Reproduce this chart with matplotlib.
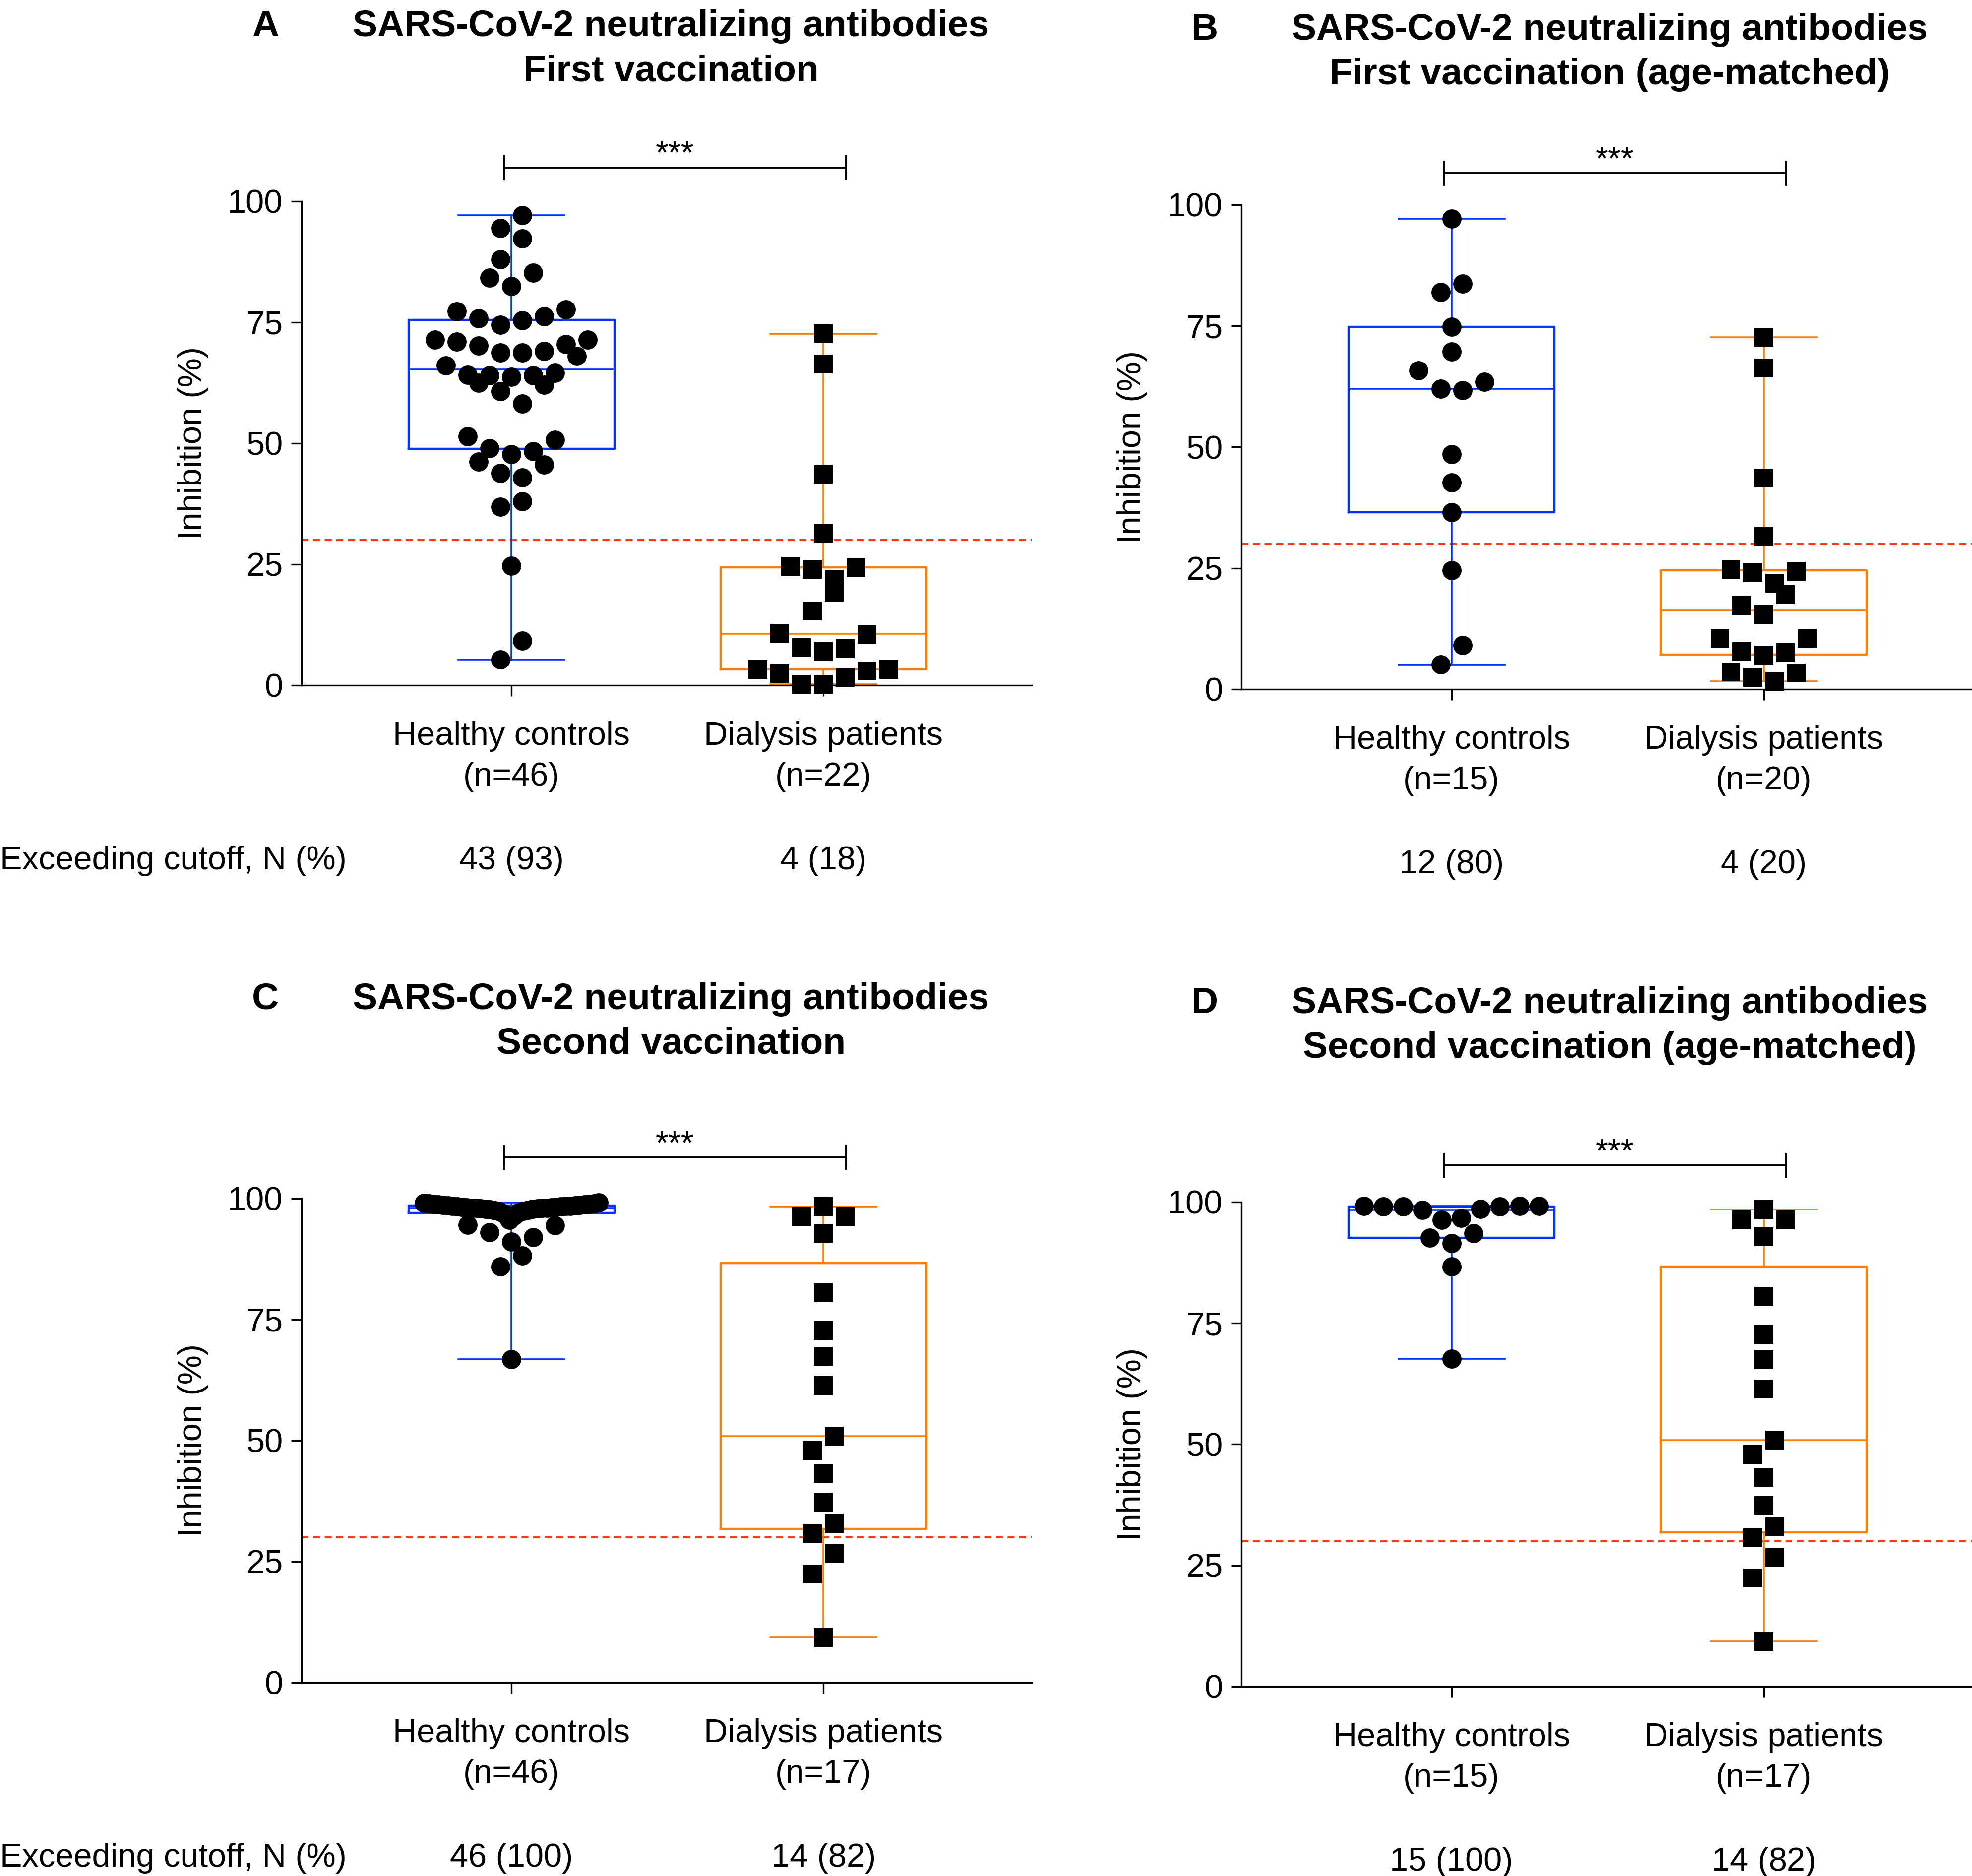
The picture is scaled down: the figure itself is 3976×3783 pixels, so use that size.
import numpy as np
import matplotlib
matplotlib.use("Agg")
import matplotlib.pyplot as plt
from matplotlib import cbook

plt.rcParams['font.family'] = ['Liberation Sans', 'DejaVu Sans']

# inhibition (%) per participant
first_healthy = [97.1, 94.5, 92.3, 88.0, 85.2, 84.2, 82.5, 77.7, 77.2, 76.2, 75.8, 75.4, 74.5,
                 71.4, 71.4, 71.0, 70.5, 70.2, 69.0, 68.7, 68.7, 68.0, 66.1, 64.5, 64.1, 64.0,
                 64.0, 63.7, 62.5, 62.1, 60.7, 58.2, 51.4, 50.7, 49.0, 48.4, 47.7, 46.2, 45.6,
                 43.8, 42.9, 38.0, 36.9, 24.7, 9.2, 5.3]
first_dialysis = [72.6, 66.4, 43.6, 31.4, 24.6, 24.3, 24.0, 21.9, 19.3, 15.4, 10.7, 10.5,
                  7.8, 7.6, 7.0, 3.3, 3.3, 3.0, 2.5, 1.6, 0.2, 0.2]
first_healthy_matched = [97.1, 83.7, 82.0, 74.8, 69.7, 65.8, 63.4, 62.0, 61.7, 48.5, 42.7,
                         36.5, 24.5, 9.1, 5.1]
first_dialysis_matched = [72.6, 66.3, 43.6, 31.5, 24.6, 24.3, 24.0, 21.9, 19.5, 17.3, 15.3,
                          10.5, 10.5, 7.8, 7.6, 7.0, 3.6, 3.4, 2.4, 1.6]
second_healthy = [99.2, 99.1, 99.0, 99.0, 98.9, 98.9, 98.8, 98.8, 98.7, 98.7, 98.6, 98.6,
                  98.5, 98.5, 98.5, 98.4, 98.4, 98.3, 98.3, 98.2, 98.2, 98.1, 98.1, 98.0,
                  98.0, 97.9, 97.9, 97.8, 97.8, 97.7, 97.6, 97.5, 97.4, 97.3, 97.1, 96.8,
                  96.4, 95.6, 94.6, 94.5, 93.0, 92.0, 91.1, 88.2, 86.0, 66.8]
second_dialysis = [98.4, 96.3, 96.3, 92.8, 80.5, 72.7, 67.4, 61.4, 50.9, 47.9, 43.2, 37.3,
                   32.9, 30.7, 26.6, 22.4, 9.3]
second_healthy_matched = [99.2, 99.2, 99.2, 99.1, 99.1, 99.05, 98.5, 98.3, 96.7, 96.3, 93.5,
                          92.6, 91.5, 86.7, 67.6]
second_dialysis_matched = [98.4, 96.3, 96.3, 92.8, 80.5, 72.7, 67.4, 61.4, 50.9, 47.9, 43.2,
                           37.3, 32.9, 30.7, 26.6, 22.4, 9.3]

groups = ["Healthy controls", "Dialysis patients"]
letters = ["A", "B", "C", "D"]
titles = ["SARS-CoV-2 neutralizing antibodies\nFirst vaccination",
          "SARS-CoV-2 neutralizing antibodies\nFirst vaccination (age-matched)",
          "SARS-CoV-2 neutralizing antibodies\nSecond vaccination",
          "SARS-CoV-2 neutralizing antibodies\nSecond vaccination (age-matched)"]
panel_data = [(first_healthy, first_dialysis),
              (first_healthy_matched, first_dialysis_matched),
              (second_healthy, second_dialysis),
              (second_healthy_matched, second_dialysis_matched)]
cutoff = 30
stars = "***"
yticks = [0, 25, 50, 75, 100]

BLUE = "#0033ff"
ORANGE = "#ff8000"
RED = "#ff3a0a"
FS = 24


def swarm(values, bin_h=4.4, step=0.07, max_half=0.28):
    # group points into rows by value, spread each row sideways, lowest in the middle
    v = np.asarray(values, float)
    order = np.argsort(v, kind="stable")
    x = np.zeros(len(v))
    i = 0
    while i < len(order):
        j = i
        while j < len(order) and v[order[j]] - v[order[i]] <= bin_h:
            j += 1
        idx = order[i:j]
        n = len(idx)
        k = n // 2
        sign = -1 if k % 2 else 1
        slots = [0.0] if n % 2 else []
        base = 1.0 if n % 2 else 0.5
        for m in range(k):
            slots += [sign * (m + base), -sign * (m + base)]
        st = step
        if n > 1 and (n - 1) * st / 2 > max_half:
            st = 2 * max_half / (n - 1)
        x[idx] = np.array(slots) * st
        i = j
    return x


fig = plt.figure(figsize=(19.88, 18.915), dpi=200)

rects = [[0.1529, 0.6347, 0.3702, 0.2580],
         [0.6295, 0.6326, 0.3705, 0.2583],
         [0.1529, 0.1031, 0.3702, 0.2580],
         [0.6295, 0.1010, 0.3705, 0.2583]]
bracket_y = [107, 106.5, 108.5, 107.5]

for p in range(4):
    ax = fig.add_axes(rects[p])
    healthy, dialysis = panel_data[p]
    for pos, vals, col, mk in ((0, healthy, BLUE, 'o'), (1, dialysis, ORANGE, 's')):
        st = cbook.boxplot_stats(vals, whis=(0, 100))[0]
        st['q1'], st['med'], st['q3'] = np.percentile(vals, [25, 50, 75], method='weibull')
        ax.bxp([st], positions=[pos], widths=0.66, capwidths=0.34, showfliers=False,
               manage_ticks=False,
               boxprops=dict(color=col, lw=1.6), whiskerprops=dict(color=col, lw=1.3),
               capprops=dict(color=col, lw=1.3), medianprops=dict(color=col, lw=1.3))
        ax.scatter(pos + swarm(vals), vals, s=195, marker=mk, c='black', linewidths=0,
                   zorder=4, clip_on=False)

    ax.axhline(cutoff, color=RED, lw=1.5, dashes=(3.4, 2.2), zorder=1)

    ax.set_xlim(-0.673, 1.667)
    ax.set_ylim(0, 100)
    ax.set_yticks(yticks)
    ax.set_yticklabels([str(t) for t in yticks])
    labels = [f"{g}\n(n={len(v)})" for g, v in zip(groups, (healthy, dialysis))]
    ax.set_xticks([0, 1])
    ax.set_xticklabels(labels, fontsize=FS, linespacing=1.42)
    ax.tick_params(axis='y', labelsize=FS, length=7.5, width=1.2, pad=6)
    ax.tick_params(axis='x', length=8, width=1.2, pad=18)
    for s in ('top', 'right'):
        ax.spines[s].set_visible(False)
    for s in ('left', 'bottom'):
        ax.spines[s].set_linewidth(1.2)
    ax.set_ylabel("Inhibition (%)", fontsize=FS)
    ax.yaxis.set_label_coords(-0.128, 0.5)

    # significance bracket between the two groups
    x0, x1, yb = -0.025, 1.072, bracket_y[p]
    ax.plot([x0, x1], [yb, yb], color='black', lw=1.4, clip_on=False)
    ax.plot([x0, x0], [yb - 2.4, yb + 2.4], color='black', lw=1.4, clip_on=False)
    ax.plot([x1, x1], [yb - 2.4, yb + 2.4], color='black', lw=1.4, clip_on=False)
    ax.text((x0 + x1) / 2, yb + 0.8, stars, ha='center', va='baseline', fontsize=FS)

    # exceeding cutoff row
    for pos, vals in ((0, healthy), (1, dialysis)):
        cnt = int(np.sum(np.asarray(vals) > cutoff))
        pct = int(round(100 * cnt / len(vals)))
        ax.text(pos, -0.38, f"{cnt} ({pct})", transform=ax.get_xaxis_transform(),
                ha='center', va='baseline', fontsize=FS)
    if p in (0, 2):
        ax.text(-0.413, -0.38, "Exceeding cutoff, N (%)", transform=ax.transAxes,
                ha='left', va='baseline', fontsize=FS)

title_x = [0.3403, 0.8164, 0.3403, 0.8164]
title_y = [0.9806, 0.9789, 0.4621, 0.4600]
letter_x = [0.1346, 0.6109, 0.1346, 0.6109]
for p in range(4):
    line1, line2 = titles[p].split("\n")
    fig.text(title_x[p], title_y[p], line1, ha='center', va='baseline', fontsize=27,
             weight='bold')
    fig.text(title_x[p], title_y[p] - 0.0238, line2, ha='center', va='baseline', fontsize=27,
             weight='bold')
    fig.text(letter_x[p], title_y[p], letters[p], ha='center', va='baseline', fontsize=27,
             weight='bold')

fig.savefig("out.png", dpi=200)
